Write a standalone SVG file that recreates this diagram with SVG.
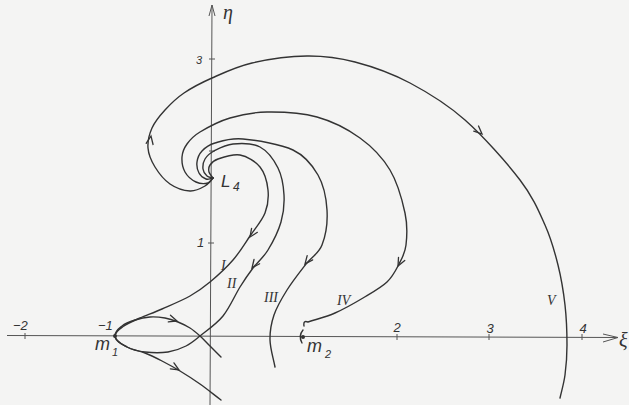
<svg xmlns="http://www.w3.org/2000/svg" xmlns:xlink="http://www.w3.org/1999/xlink" width="629" height="405" viewBox="0 0 629 405">
<style>
.ax{fill:none;stroke:#555;stroke-width:1}
.cv{fill:none;stroke:#333;stroke-width:1.4;stroke-linecap:round}
.ah{fill:none;stroke:#333;stroke-width:1.3;stroke-linecap:round;stroke-linejoin:miter}
.t{font-family:"Liberation Sans",Arial,sans-serif;font-style:italic;fill:#333}
.r{font-family:"Liberation Serif","Times New Roman",serif;font-style:italic;fill:#333}
</style>
<defs>
<path id="ah" d="M-8,-3.5 L0,0 L-8,3.5"/>
</defs>
<rect width="629" height="405" fill="#f4f4f3"/>
<g id="axes">
<line class="ax" x1="7" y1="335.5" x2="618" y2="337.5"/>
<path class="ax" d="M603,334 L618,337.5 L603,342"/>
<line class="ax" x1="210" y1="405" x2="212" y2="5"/>
<path class="ax" d="M209,16 L212,5 L215,16"/>
<path class="ax" d="M25,333 v6 M397,334 v6 M489,334 v6 M582,334 v6 M209,59 h6 M209,151 h6 M208,243 h6"/>
<circle cx="115" cy="336" r="2" fill="#333"/>
<circle cx="303" cy="337" r="2" fill="#333"/>
</g>
<g id="trajectories">
<path id="curve-V" class="cv" d="M213,178 C210.3,180.7 208.8,183.8 205,186 S195.8,191.3 190,191 S175.8,188 170,184 S158.7,173 155,167 S148.5,154.5 148,148 S149.2,134.3 152,128 S159.7,115.8 165,110 S176.2,98.3 184,93 S200.7,83 212,78 S236.2,66.7 252,63 S289.8,56.2 307,56 S337.8,57.5 355,62 S391.7,73.3 410,83 S446.7,103.8 465,120 S506.7,162.5 520,180 S538.7,210.8 545,225 S554.7,251.7 558,265 S563.5,291.7 565,305 S567,333.3 567,345 S566.2,366.2 565,375 S561.7,390.3 560,398"/>
<path id="curve-IV" class="cv" d="M213,178 C211.3,179.7 210.8,182.3 208,183 S199.8,183.8 196,182 S187.3,176.2 185,172 S181.7,161.7 182,157 S184,148.2 187,144 S192.8,136.3 200,132 S218.8,121.3 230,118 S252.5,112.2 267,112 S301.5,112.7 317,117 S347.8,129.2 360,138 S382.5,157.5 390,170 S402.3,200.5 405,213 S407,236.5 406,245 S402.2,257.8 399,264 S393,276.3 387,282 S371.7,292.8 363,298 S344.2,309 335,313 S317,319 308,322 Q303,320 304,326"/>
<path id="curve-III" class="cv" d="M213,178 C210.7,178.3 208.3,179.8 206,179 S200.5,175.8 199,173 S196.5,165.7 197,162 S199,154.2 202,151 S208.2,145 215,143 S230,137.8 243,139 S280.5,144 293,150 S312.3,165 318,175 S326.3,198.3 327,210 S325.5,236 322,245 S311.8,256.5 306,264 S292.3,281.5 287,290 S276.8,306.7 274,315 S269.8,331.3 270,340 S273.3,358 275,367"/>
<path id="curve-II" class="cv" d="M213,178 C211,177.3 208.7,177.5 207,176 S203.3,171.8 203,169 S203.2,162 205,159 S209.3,153.5 214,151 S225.3,144.7 233,144 S252.5,143 260,147 S274,160 278,168 S283.5,186 284,195 S283.7,212.8 281,222 S272.7,242.3 268,250 S257.7,261.8 253,268 S245,279 240,287 S229.7,307.8 223,316 S206.2,331 200,336 S191.3,343.3 186,346 S174.8,351 168,352 S151.8,352.8 145,352 S132,349.7 127,347 S116,342 115,336"/>
<path id="curve-I" class="cv" d="M213,178 C211.7,176 209.5,174.2 209,172 S208.5,167.2 210,165 S213,160.7 218,159 S233,153.7 240,155 S255.3,161.2 260,167 S267.2,182.3 268,190 S268,205.3 265,213 S255.3,228.2 250,236 S239.7,252.3 233,260 S217.2,276 210,282 S198,291.5 190,296 S170.3,305.3 162,309 S146.3,315.2 140,318 S128.2,323 124,326 S115.5,331 115,336"/>
<path id="loop-upper" class="cv" d="M115,336 C115,331 118.7,328.7 122,326 S130.3,321.5 135,320 S145,317.3 150,317 S160.3,317.2 165,318 S173.8,320.3 178,322 S186.3,325.7 190,328 S196.7,333 200,336 S206.5,342.5 210,346 S217.3,353.3 221,357"/>
<path id="lower-exit" class="cv" d="M115,336 C115,341 122,344.2 127,347 S139.2,350.7 145,353 S156.2,358 162,361 S173.7,367.2 180,371 S193.2,379.2 200,384 S214,394.7 221,400"/>
<path id="m2-arc" class="cv" d="M303,330 Q298,336 302,343"/>
</g>
<g id="arrows" class="ah">
<use xlink:href="#ah" transform="translate(482,134) rotate(43)"/>
<use xlink:href="#ah" transform="translate(151,136) rotate(-80)"/>
<use xlink:href="#ah" transform="translate(398,266) rotate(117)"/>
<use xlink:href="#ah" transform="translate(305,264) rotate(128)"/>
<use xlink:href="#ah" transform="translate(252,268) rotate(127)"/>
<use xlink:href="#ah" transform="translate(250,237) rotate(124)"/>
<use xlink:href="#ah" transform="translate(177,321) rotate(18)"/>
<use xlink:href="#ah" transform="translate(179,370) rotate(31)"/>
</g>
<g id="labels">
<text class="t" x="13" y="330" font-size="13">−2</text>
<text class="t" x="98" y="330" font-size="13">−1</text>
<text class="t" x="397" y="332" font-size="13" text-anchor="middle">2</text>
<text class="t" x="490" y="333" font-size="13" text-anchor="middle">3</text>
<text class="t" x="583" y="333" font-size="13" text-anchor="middle">4</text>
<text class="t" x="196" y="64" font-size="11">3</text>
<text class="t" x="197" y="247" font-size="13">1</text>
<text class="r" x="619" y="347" font-size="20">ξ</text>
<text class="r" x="223" y="19" font-size="20">η</text>
<text class="t" x="95" y="350" font-size="18">m</text>
<text class="t" x="112" y="356" font-size="11">1</text>
<text class="t" x="307" y="352" font-size="18">m</text>
<text class="t" x="325" y="358" font-size="11">2</text>
<text class="t" x="221" y="187" font-size="17">L</text>
<text class="t" x="233" y="191" font-size="12">4</text>
<text class="r" x="221" y="270" font-size="14">I</text>
<text class="r" x="227" y="288" font-size="14">II</text>
<text class="r" x="264" y="302" font-size="14">III</text>
<text class="r" x="337" y="305" font-size="14">IV</text>
<text class="r" x="547" y="305" font-size="14">V</text>
</g>
</svg>
